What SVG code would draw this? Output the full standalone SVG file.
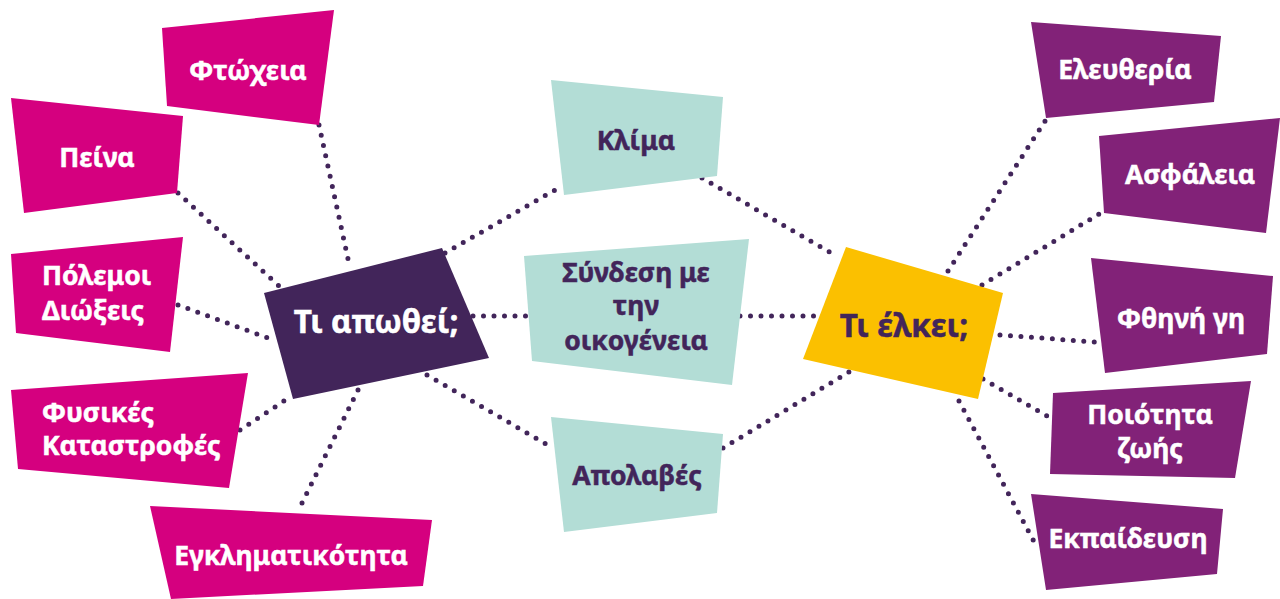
<svg xmlns="http://www.w3.org/2000/svg" width="1280" height="599" viewBox="0 0 1280 599">
<style>
.pink{fill:#D5007F}
.plum{fill:#822278}
.teal{fill:#B3DDD6}
.dark{fill:#42255A}
.yellow{fill:#FBC000}
text{font-family:"Noto Sans","Liberation Sans",sans-serif;font-weight:bold;font-size:26.5px}
.w{fill:#FFFFFF;stroke:#FFFFFF;stroke-width:0.5}
.d{fill:#42255A;stroke:#42255A;stroke-width:0.5}
.c{text-anchor:middle}
.big{font-size:31.5px}
#connectors line{stroke:#42255A;stroke-width:5;stroke-linecap:round;stroke-dasharray:0 10.5;fill:none}
</style>
<rect width="1280" height="599" fill="#FFFFFF"/>
<g id="connectors">
<line x1="319" y1="125" x2="350" y2="268"/>
<line x1="178" y1="193" x2="279" y2="286"/>
<line x1="178" y1="305" x2="276" y2="341"/>
<line x1="240" y1="430" x2="287" y2="399"/>
<line x1="358" y1="390" x2="298" y2="511"/>
<line x1="445" y1="253" x2="562" y2="186"/>
<line x1="473" y1="316" x2="527" y2="316"/>
<line x1="427" y1="375" x2="553" y2="448"/>
<line x1="702" y1="178" x2="838" y2="257"/>
<line x1="740" y1="316" x2="815" y2="316"/>
<line x1="723" y1="448" x2="849" y2="372"/>
<line x1="948" y1="271" x2="1047" y2="118"/>
<line x1="982" y1="285" x2="1104" y2="211"/>
<line x1="1000" y1="335" x2="1095" y2="342"/>
<line x1="983" y1="379" x2="1047" y2="416"/>
<line x1="959" y1="401" x2="1038" y2="549"/>
</g>
<g id="n-ftoxeia"><polygon class="pink" points="162,28 334,10 319,125 167,106"/><text class="w c" x="248" y="80">Φτώχεια</text></g>
<g id="n-peina"><polygon class="pink" points="11,98 183,116 177,193 24,213"/><text class="w c" x="97" y="167">Πείνα</text></g>
<g id="n-polemoi"><polygon class="pink" points="11,254 183,237 170,352 16,333"/><text class="w" x="42" y="285">Πόλεμοι</text><text class="w" x="42" y="320">Διώξεις</text></g>
<g id="n-fysikes"><polygon class="pink" points="11,390 248,373 229,488 18,469"/><text class="w" x="42" y="422">Φυσικές</text><text class="w" x="42" y="455">Καταστροφές</text></g>
<g id="n-egklim"><polygon class="pink" points="150,506 432,520 423,586 171,599"/><text class="w c" x="291" y="565">Εγκληματικότητα</text></g>
<g id="n-apothei"><polygon class="dark" points="264,293 442,248 489,358 293,399"/><text class="w c big" x="376" y="333">Τι απωθεί;</text></g>
<g id="n-klima"><polygon class="teal" points="551,80 723,97 717,176 564,195"/><text class="d c" x="636" y="150">Κλίμα</text></g>
<g id="n-syndesi"><polygon class="teal" points="524,256 749,239 732,385 532,361"/><text class="d c" x="636" y="282">Σύνδεση με</text><text class="d c" x="636" y="315">την</text><text class="d c" x="636" y="350">οικογένεια</text></g>
<g id="n-apolaves"><polygon class="teal" points="551,417 723,434 717,513 564,532"/><text class="d c" x="637" y="485">Απολαβές</text></g>
<g id="n-elkei"><polygon class="yellow" points="846,247 1003,293 978,399 803,359"/><text class="d c big" x="904" y="337">Τι έλκει;</text></g>
<g id="n-eleftheria"><polygon class="plum" points="1031,22 1221,36 1214,102 1046,118"/><text class="w c" x="1125" y="79">Ελευθερία</text></g>
<g id="n-asfaleia"><polygon class="plum" points="1099,136 1280,118 1266,233 1104,213"/><text class="w c" x="1190" y="184">Ασφάλεια</text></g>
<g id="n-ftheni"><polygon class="plum" points="1091,258 1273,276 1267,354 1105,373"/><text class="w c" x="1181" y="328">Φθηνή γη</text></g>
<g id="n-poiotita"><polygon class="plum" points="1053,393 1251,381 1235,478 1050,474"/><text class="w c" x="1150" y="424">Ποιότητα</text><text class="w c" x="1150" y="458">ζωής</text></g>
<g id="n-ekpaideusi"><polygon class="plum" points="1031,494 1223,509 1217,574 1046,590"/><text class="w c" x="1128" y="548">Εκπαίδευση</text></g>
</svg>
